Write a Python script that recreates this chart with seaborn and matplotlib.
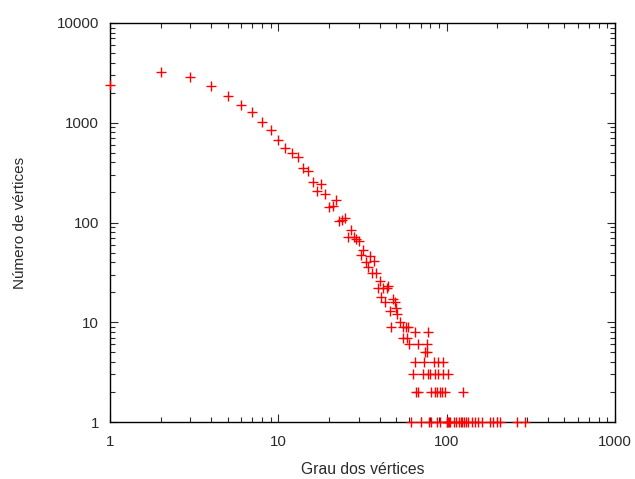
import matplotlib
matplotlib.use("Agg")
import matplotlib.pyplot as plt
import matplotlib.ticker as mticker
import numpy as np
import pandas as pd
import seaborn as sns

# Degree distribution (degree, number of vertices with that degree)
grau_cauda = [1, 2, 3, 4, 5, 6, 7, 8, 9, 10, 11, 12, 13, 14, 15, 16, 17, 18, 19, 20,
              21, 22, 23, 24, 25, 26, 27, 28, 29, 30, 31, 32, 33, 34, 35, 36, 37, 38,
              39, 40, 41, 42, 43, 44, 45, 46, 47, 48, 49, 50, 51, 53]
num_cauda = [2390, 3200, 2850, 2320, 1870, 1520, 1280, 1010, 840, 670, 555, 500, 450,
             350, 325, 255, 205, 245, 195, 142, 145, 167, 104, 106, 110, 71, 85, 72,
             69, 65, 47, 53, 40, 36, 46, 31, 41, 31, 22, 26, 18, 22, 16, 22, 23, 13,
             9, 17, 16, 14, 12, 10]

grau_9 = [55, 57, 59]
grau_8 = [65, 77]
grau_7 = [55, 58]
grau_6 = [60, 68, 76]
grau_5 = [74, 76]
grau_4 = [65, 73, 84, 89, 95]
grau_3 = [63, 72, 77, 80, 85, 89, 95, 102]
grau_2 = [66, 68, 81, 85, 88, 91, 94, 98, 125]
grau_1 = [61, 70, 78, 81, 88, 91, 100, 101, 102, 103, 105, 110, 114, 118, 121, 124,
          127, 130, 134, 141, 147, 154, 163, 182, 189, 198, 207, 260, 290]

grau = list(grau_cauda)
num = list(num_cauda)
for valor, lista in [(9, grau_9), (8, grau_8), (7, grau_7), (6, grau_6), (5, grau_5),
                     (4, grau_4), (3, grau_3), (2, grau_2), (1, grau_1)]:
    grau += lista
    num += [valor] * len(lista)

df = pd.DataFrame({"grau": grau, "num": num})

sns.set_style("white")
plt.rcParams["font.family"] = ["Liberation Sans", "DejaVu Sans"]
plt.rcParams["text.color"] = "#2a2a2a"
plt.rcParams["axes.labelcolor"] = "#2a2a2a"
plt.rcParams["xtick.color"] = "#2a2a2a"
plt.rcParams["ytick.color"] = "#2a2a2a"

fig = plt.figure(figsize=(6.35, 4.79), dpi=100)
ax = fig.add_axes([110 / 635, 1 - 422 / 479, 505 / 635, 399 / 479])

sns.scatterplot(data=df, x="grau", y="num", marker="+", color="#ff0000",
                s=45, linewidth=1.0, ax=ax, clip_on=False, zorder=3, legend=False)

ax.set_xscale("log")
ax.set_yscale("log")
ax.set_xlim(1, 1000)
ax.set_ylim(1, 10000)

ax.xaxis.set_major_locator(mticker.LogLocator(base=10))
ax.yaxis.set_major_locator(mticker.LogLocator(base=10))
ax.xaxis.set_minor_locator(mticker.LogLocator(base=10, subs=np.arange(2, 10)))
ax.yaxis.set_minor_locator(mticker.LogLocator(base=10, subs=np.arange(2, 10)))
ax.xaxis.set_major_formatter(mticker.FuncFormatter(lambda v, p: f"{int(round(v))}"))
ax.yaxis.set_major_formatter(mticker.FuncFormatter(lambda v, p: f"{int(round(v))}"))
ax.xaxis.set_minor_formatter(mticker.NullFormatter())
ax.yaxis.set_minor_formatter(mticker.NullFormatter())

ax.tick_params(which="both", direction="in", top=True, right=True,
               bottom=True, left=True, width=0.8, colors="#2a2a2a")
ax.tick_params(which="major", length=6, labelsize=10.8)
ax.tick_params(axis="x", which="major", pad=9)
ax.tick_params(axis="y", which="major", pad=8)
ax.tick_params(which="minor", length=3.5)

for sp in ax.spines.values():
    sp.set_visible(True)
    sp.set_color("black")
    sp.set_linewidth(1.0)

ax.set_xlabel("Grau dos vértices", fontsize=11.3, labelpad=10)
ax.set_ylabel("Número de vértices", fontsize=11, labelpad=21)

fig.savefig("out.png", dpi=100)
